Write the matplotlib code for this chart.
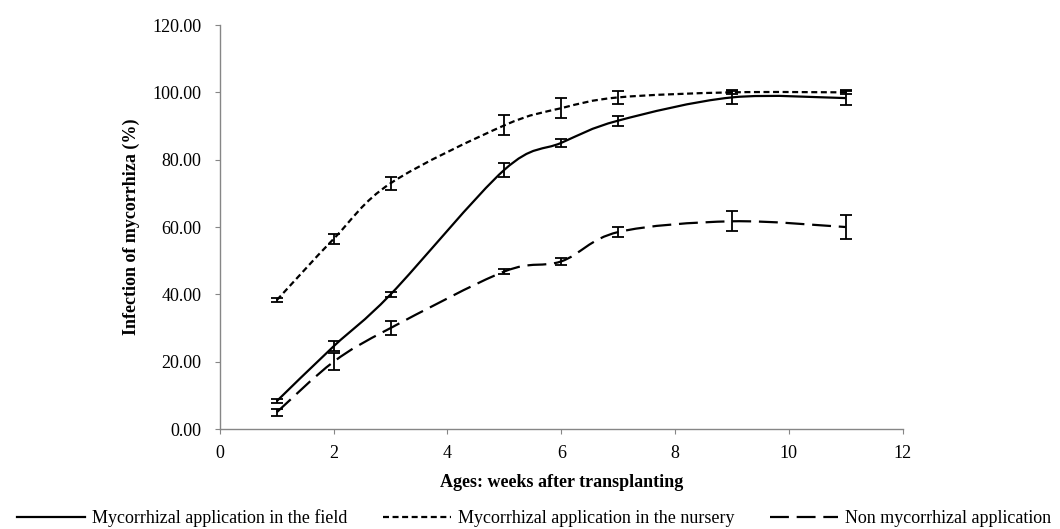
import matplotlib.pyplot as plt
from matplotlib.path import Path
from matplotlib.patches import PathPatch
from matplotlib.lines import Line2D
import numpy as np

plt.rcParams['font.family'] = ['Liberation Serif', 'DejaVu Serif']

# Data
weeks = [1, 2, 3, 5, 6, 7, 9, 11]
field = [8.3, 24.6, 40.0, 77.0, 85.0, 91.6, 98.5, 98.3]
field_err = [0.6, 1.5, 0.8, 2.0, 1.2, 1.5, 2.0, 2.0]
nursery = [38.3, 56.5, 73.0, 90.2, 95.3, 98.5, 100.0, 100.0]
nursery_err = [0.5, 1.5, 2.0, 3.0, 3.0, 2.0, 0.6, 0.6]
nonmyc = [5.0, 20.0, 30.0, 46.8, 49.8, 58.5, 61.7, 60.0]
nonmyc_err = [1.0, 2.5, 2.0, 0.8, 1.0, 1.5, 3.0, 3.5]

labels = ["Mycorrhizal application in the field",
          "Mycorrhizal application in the nursery",
          "Non mycorrhizal application"]
dashes = [None, (2.7, 1.6), (8.5, 3.5)]
FS = 13


def smooth_path(x, y, tension=1/6):
    # Excel-like smoothed line: Catmull-Rom converted to cubic Bezier segments
    x = np.asarray(x, float)
    y = np.asarray(y, float)
    pts = np.column_stack([x, y])
    verts = [pts[0]]
    codes = [Path.MOVETO]
    n = len(pts)
    for i in range(n - 1):
        p0 = pts[i - 1] if i > 0 else pts[i]
        p1 = pts[i]
        p2 = pts[i + 1]
        p3 = pts[i + 2] if i + 2 < n else pts[i + 1]
        c1 = p1 + (p2 - p0) * tension
        c2 = p2 - (p3 - p1) * tension
        verts += [c1, c2, p2]
        codes += [Path.CURVE4] * 3
    return Path(verts, codes)


fig = plt.figure(figsize=(10.6, 5.29), dpi=100)
ax = fig.add_axes([0.2075, 0.189, 0.644, 0.7637])

for ys, errs, ds in zip([field, nursery, nonmyc],
                        [field_err, nursery_err, nonmyc_err], dashes):
    patch = PathPatch(smooth_path(weeks, ys), facecolor='none',
                      edgecolor='black', lw=1.6, transform=ax.transData)
    if ds is not None:
        patch.set_linestyle((0, ds))
    ax.add_patch(patch)
    ax.errorbar(weeks, ys, yerr=errs, fmt='none', ecolor='black',
                elinewidth=1.3, capsize=4, capthick=1.3)

ax.set_xlim(0, 12)
ax.set_ylim(0, 120)
ax.set_xticks(range(0, 13, 2))
ax.set_yticks(range(0, 121, 20))
ax.set_yticklabels([f"{v:.2f}" for v in range(0, 121, 20)])
for s in ['top', 'right']:
    ax.spines[s].set_visible(False)
for s in ['left', 'bottom']:
    ax.spines[s].set_color('#868686')
    ax.spines[s].set_linewidth(1.0)
ax.tick_params(colors='#868686', labelcolor='black', labelsize=FS,
               length=3.5, direction='out')
ax.tick_params(axis='x', pad=8)
ax.tick_params(axis='y', pad=10)
ax.set_xlabel("Ages: weeks after transplanting", fontsize=FS,
              fontweight='bold', labelpad=9)
ax.set_ylabel("Infection of mycorrhiza (%)", fontsize=FS,
              fontweight='bold', labelpad=9)

handles = []
for ds in dashes:
    h = Line2D([], [], color='black', lw=1.6)
    if ds is not None:
        h.set_dashes(ds)
    handles.append(h)
fig.legend(handles, labels, loc='center', bbox_to_anchor=(0.504, 0.021),
           ncol=3, frameon=False, fontsize=FS, handlelength=3.77,
           handletextpad=0.39, columnspacing=1.95, borderpad=0,
           borderaxespad=0)

fig.savefig("out.png", dpi=100)
